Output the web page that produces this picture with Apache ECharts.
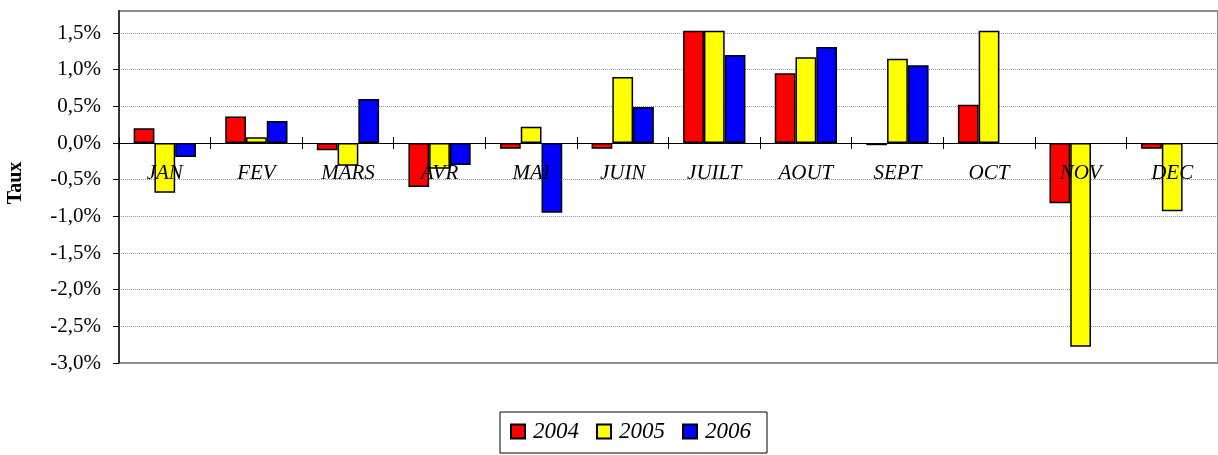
<!DOCTYPE html>
<html>
<head>
<meta charset="utf-8">
<script src="https://cdn.jsdelivr.net/npm/echarts@6/dist/echarts.min.js"></script>
<style>
html,body{margin:0;padding:0;background:#fff;}
#chart{width:1218px;height:455px;}
</style>
</head>
<body>
<div id="chart"></div>
<script>
const categories = ['JAN','FEV','MARS','AVR','MAI','JUIN','JUILT','AOUT','SEPT','OCT','NOV','DEC'];
const seriesNames = ['2004','2005','2006'];
const values2004 = [0.20, 0.36, -0.10, -0.60, -0.08, -0.08, 1.53, 0.95, -0.03, 0.52, -0.82, -0.08];
const values2005 = [-0.68, 0.08, -0.31, -0.35, 0.22, 0.90, 1.53, 1.17, 1.15, 1.53, -2.78, -0.93];
const values2006 = [-0.19, 0.30, 0.60, -0.30, -0.95, 0.49, 1.20, 1.31, 1.06, null, null, null];
const yTickValues = [-3, -2.5, -2, -1.5, -1, -0.5, 0, 0.5, 1, 1.5];
const yRange = {min: -3, max: 1.8, interval: 0.5};

const FONT = 'Liberation Serif';
const chart = echarts.init(document.getElementById('chart'));
const colors = ['#FF0000', '#FFFF00', '#0000FF'];
const allValues = [values2004, values2005, values2006];

const GRID_TOP = 11, GRID_BOTTOM = 92, H = 455;
const plotH = H - GRID_TOP - GRID_BOTTOM;
const zeroY = GRID_TOP + plotH * (yRange.max - 0) / (yRange.max - yRange.min);

chart.setOption({
  animation: false,
  grid: {left: 119, right: -2, top: GRID_TOP, bottom: GRID_BOTTOM, show: true, borderColor: '#8c8c8c', borderWidth: 2, backgroundColor: 'transparent'},
  legend: {
    data: seriesNames,
    left: 500, top: 412,
    orient: 'horizontal',
    itemWidth: 14, itemHeight: 14, itemGap: 17,
    padding: [8, 16, 10, 10],
    borderColor: '#000', borderWidth: 1,
    icon: 'rect',
    textStyle: {fontFamily: FONT, fontStyle: 'italic', fontSize: 23, color: '#000', padding: [0, 0, 0, 3]}
  },
  graphic: [{
    type: 'text', x: 16, y: 183, rotation: Math.PI / 2,
    style: {text: 'Taux', font: 'bold 20px "Liberation Serif"', fill: '#000', align: 'center', verticalAlign: 'middle'}
  }],
  xAxis: [{
    type: 'category', data: categories, position: 'bottom', z: 5,
    offset: -(H - GRID_BOTTOM - zeroY),
    axisLine: {onZero: false, lineStyle: {color: '#000', width: 1}},
    axisTick: {show: true, length: 6, lineStyle: {color: '#000'}},
    axisLabel: {fontFamily: FONT, fontStyle: 'italic', fontSize: 21, color: '#000', margin: 20},
    splitLine: {show: false}
  }, {
    type: 'category', data: categories, position: 'top', z: 5,
    offset: -(zeroY - GRID_TOP),
    axisLine: {onZero: false, show: false},
    axisTick: {show: true, length: 6, lineStyle: {color: '#000'}},
    axisLabel: {show: false},
    splitLine: {show: false}
  }],
  yAxis: {
    type: 'value', min: yRange.min, max: yRange.max, interval: yRange.interval,
    axisLine: {show: true, lineStyle: {color: '#333', width: 2}},
    axisTick: {show: true, length: 6, customValues: yTickValues, lineStyle: {color: '#000'}},
    axisLabel: {
      fontFamily: FONT, fontSize: 21, color: '#000', margin: 18,
      customValues: yTickValues,
      formatter: function (v) { return v.toFixed(1).replace('.', ',') + '%'; }
    },
    splitLine: {show: true, lineStyle: {color: '#999', type: 'dotted', width: 1}}
  },
  series: seriesNames.map(function (name, i) {
    return {
      name: name, type: 'bar', data: allValues[i],
      barGap: '0%', barCategoryGap: '32%',
      itemStyle: {color: colors[i], borderColor: '#000', borderWidth: 1.5}
    };
  })
});
</script>
</body>
</html>
